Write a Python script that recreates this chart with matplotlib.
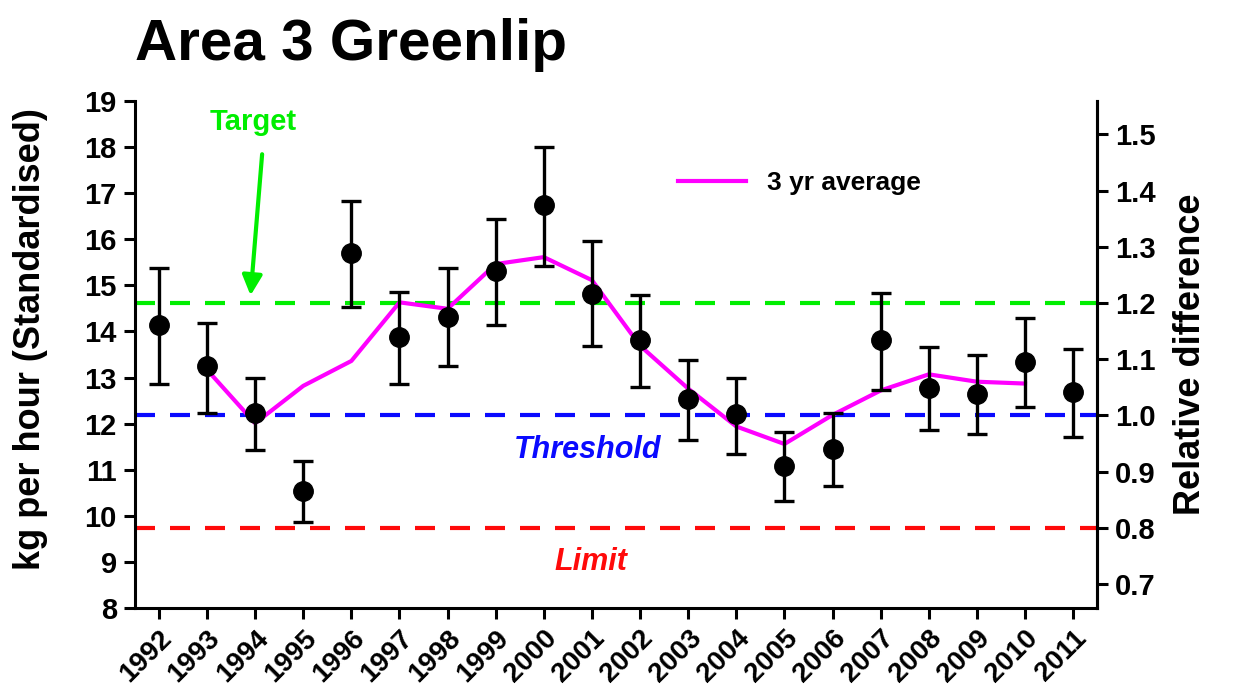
import matplotlib.pyplot as plt
import numpy as np

plt.rcParams['font.family'] = ['Liberation Sans', 'DejaVu Sans']
plt.rcParams['font.weight'] = 'bold'
plt.rcParams['axes.labelweight'] = 'bold'

# Dados
anos = np.arange(1992, 2012)
cpue = [14.13, 13.26, 12.24, 10.54, 15.69, 13.88, 14.31, 15.30, 16.74, 14.82,
        13.81, 12.54, 12.21, 11.08, 11.45, 13.81, 12.77, 12.65, 13.34, 12.68]
erro_sup = [15.37, 14.19, 12.98, 11.19, 16.83, 14.85, 15.37, 16.44, 17.99, 15.96,
            14.78, 13.38, 13.00, 11.81, 12.24, 14.83, 13.66, 13.48, 14.29, 13.62]
erro_inf = [12.86, 12.24, 11.43, 9.87, 14.52, 12.86, 13.25, 14.14, 15.41, 13.69,
            12.80, 11.64, 11.35, 10.32, 10.64, 12.74, 11.86, 11.77, 12.37, 11.71]
anos_media = np.arange(1993, 2011)
media3 = [13.17, 12.01, 12.82, 13.36, 14.63, 14.49, 15.46, 15.61, 15.11,
          13.69, 12.76, 11.94, 11.56, 12.19, 12.72, 13.07, 12.91, 12.87]

limiar = 12.18  # Threshold (relativo = 1.0)
alvo = 1.2 * limiar
limite = 0.8 * limiar

cpue = np.array(cpue)
yerr = [cpue - np.array(erro_inf), np.array(erro_sup) - cpue]

fig = plt.figure(figsize=(12.37, 6.85), dpi=100)
ax = fig.add_axes([0.109, 0.112, 0.778, 0.741])

# Linhas de referência
ax.axhline(alvo, color='#00ee00', lw=3, dashes=(4.8, 3.6))
ax.axhline(limiar, color='#0a0aff', lw=3, dashes=(4.8, 3.6))
ax.axhline(limite, color='#ff0a0a', lw=3, dashes=(4.8, 3.6))

# Média de 3 anos
ax.plot(anos_media, media3, color='#ff00ff', lw=3, label='3 yr average', zorder=4)

# Pontos com barras de erro
ax.errorbar(anos, cpue, yerr=yerr, fmt='o', color='black', ms=14,
            elinewidth=2.4, capsize=7.5, capthick=2.4, zorder=5)

ax.set_xlim(1991.5, 2011.5)
ax.set_ylim(8, 19)
ax.set_yticks(range(8, 20))
ax.set_xticks(anos)
ax.set_xticklabels([str(a) for a in anos], rotation=45, ha='right',
                   rotation_mode='anchor', fontsize=20)
ax.tick_params(axis='y', labelsize=21, width=2.2, length=8, pad=5)
ax.tick_params(axis='x', width=2.2, length=8, pad=4)
ax.spines['top'].set_visible(False)
for s in ['left', 'bottom', 'right']:
    ax.spines[s].set_linewidth(2.2)
ax.set_ylabel('kg per hour (Standardised)', fontsize=26)
ax.yaxis.set_label_coords(-0.09, 0.53)

# Eixo da direita
ax2 = ax.twinx()
ax2.set_ylim(8 / limiar, 19 / limiar)
ax2.set_yticks(np.arange(0.7, 1.51, 0.1))
ax2.set_yticklabels(['%.1f' % v for v in np.arange(0.7, 1.51, 0.1)])
ax2.tick_params(axis='y', labelsize=21, width=2.2, length=8, pad=5)
ax2.spines['top'].set_visible(False)
ax2.spines['right'].set_linewidth(2.2)
ax2.set_ylabel('Relative difference', fontsize=26, labelpad=12)

# Textos
ax.text(1993.95, 18.54, 'Target', color='#00ee00', fontsize=21, ha='center', va='center')
ax.annotate('', xy=(1993.9, 14.72), xytext=(1994.15, 17.9),
            arrowprops=dict(arrowstyle='-|>', color='#00ee00', lw=3,
                            mutation_scale=30))
ax.text(2000.9, 11.43, 'Threshold', color='#0a0aff', fontsize=22,
        style='italic', ha='center', va='center')
ax.text(2000.98, 9.0, 'Limit', color='#ff0a0a', fontsize=22,
        style='italic', ha='center', va='center')

ax.legend(loc='center left', bbox_to_anchor=(0.553, 0.838), frameon=False,
          fontsize=19, handlelength=2.6, handletextpad=0.8, borderaxespad=0)

fig.text(0.109, 0.912, 'Area 3 Greenlip', fontsize=42, ha='left', va='baseline')

fig.savefig('out.png', dpi=100)
